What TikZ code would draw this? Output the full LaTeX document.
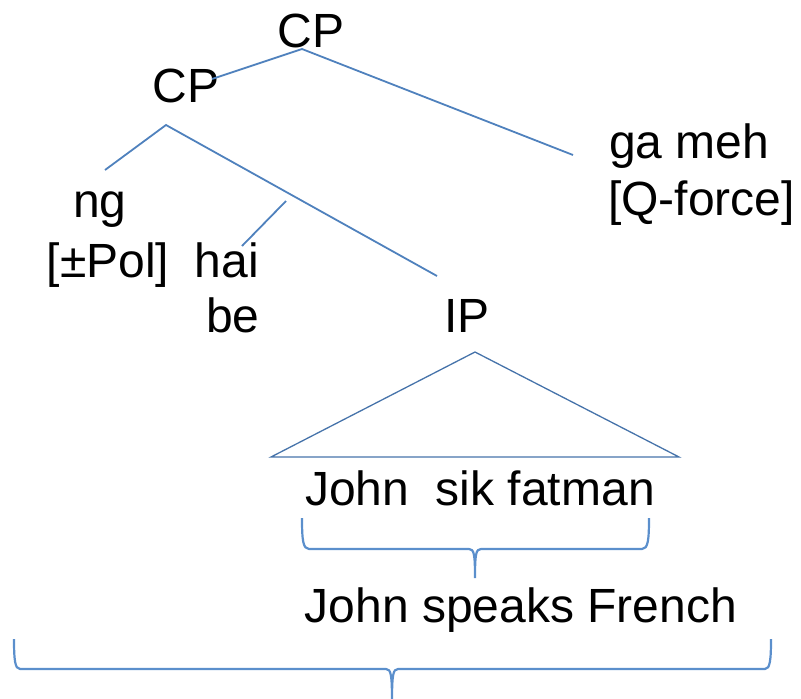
\documentclass[tikz,border=0pt]{standalone}
\usepackage{fontspec}
\setmainfont{Liberation Sans}
\begin{document}
\begin{tikzpicture}[x=1pt,y=-1pt,
  lbl/.style={anchor=base,inner sep=0pt,font=\fontsize{48}{58}\selectfont},
  branch/.style={draw=treeblue,line width=1.8pt},
  roof/.style={draw=roofblue,line width=1.3pt,line join=miter},
  bracestroke/.style={draw=braceblue,line width=2.2pt}]
\definecolor{treeblue}{HTML}{4F81BD}
\definecolor{roofblue}{HTML}{4673AA}
\definecolor{braceblue}{HTML}{5B8FCC}
\useasboundingbox (0,0) rectangle (801,699);

% labels
\node[lbl] (cpTop) at (311,47) {CP};
\node[lbl] (cpMid) at (186,102) {CP};
\node[lbl] (ng) at (100,217) {ng};
\node[lbl] (pol) at (108,277) {[±Pol]};
\node[lbl] (hai) at (227,277) {hai};
\node[lbl] (be) at (233,332) {be};
\node[lbl] (ip) at (467,332) {IP};
\node[lbl,anchor=base west] (gameh) at (609,158) {ga meh};
\node[lbl,anchor=base west] (qforce) at (608,215) {[Q-force]};
\node[lbl] (gloss) at (480,505) {John\ \ sik fatman};
\node[lbl] (transl) at (521,622) {John speaks French};

% branch end points
\coordinate (cpTopFoot) at (302,49);
\coordinate (cpMidHead) at (212,79);
\coordinate (gamehHead) at (573,155);
\coordinate (cpMidFoot) at (166,125);
\coordinate (ngHead) at (105,170);
\coordinate (ipHead) at (437,276);
\coordinate (haiFoot) at (286,201);
\coordinate (haiHead) at (242,246);

\draw[branch] (cpMidHead) -- (cpTopFoot) -- (gamehHead);
\draw[branch] (ngHead) -- (cpMidFoot) -- (ipHead);
\draw[branch] (haiFoot) -- (haiHead);

% triangle under IP
\coordinate (roofTop) at (475,352);
\coordinate (roofL) at (271,457);
\coordinate (roofR) at (679,457);
\draw[roof] (roofTop) -- (roofL) -- (roofR) -- cycle;

% brace under the gloss
\coordinate (b1L) at (302,518);
\coordinate (b1R) at (649,518);
\coordinate (b1Tip) at (475,578);
\draw[bracestroke] (b1L) .. controls (302,540) and (303,549) .. (309,549)
  -- (469,549) .. controls (474,549) and (475,554) .. (b1Tip)
  .. controls (475,554) and (476,549) .. (481,549)
  -- (642,549) .. controls (648,549) and (649,540) .. (b1R);

% brace under the translation
\coordinate (b2L) at (14,639);
\coordinate (b2R) at (771,639);
\coordinate (b2Tip) at (392,702);
\draw[bracestroke] (b2L) .. controls (14,660) and (15,669) .. (20,669)
  -- (386,669) .. controls (391,669) and (392,675) .. (b2Tip)
  (b2Tip) .. controls (392,675) and (393,669) .. (398,669)
  -- (765,669) .. controls (770,669) and (771,660) .. (b2R);
\end{tikzpicture}
\end{document}
